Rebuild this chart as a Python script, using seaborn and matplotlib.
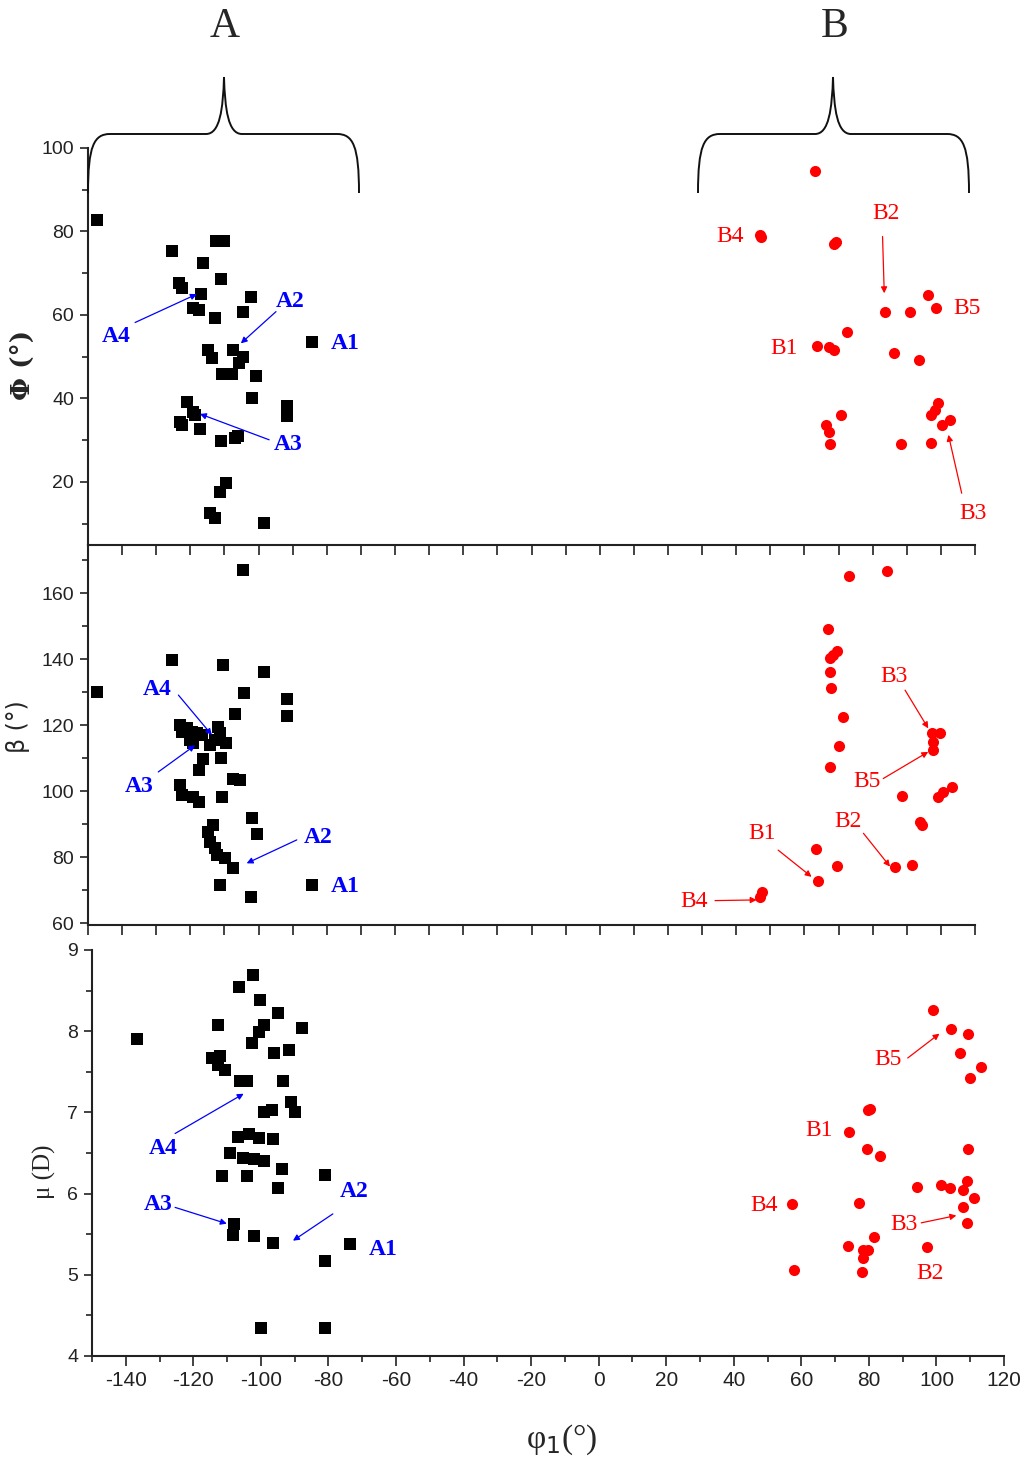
import numpy as np
import pandas as pd
import matplotlib
matplotlib.use('Agg')
import matplotlib.pyplot as plt
from matplotlib.path import Path
from matplotlib.patches import PathPatch
from matplotlib.ticker import MultipleLocator, NullFormatter
from matplotlib import font_manager
import seaborn as sns

# ---- data (phi1 in degrees) ----
phi_A_x = [-147.5, -125.5, -116.2, -112.5, -110.1, -111.0, -123.3, -122.5, -116.9, -102.3,
           -119.1, -117.5, -112.8, -104.5, -84.4, -114.7, -113.7, -107.4, -104.5, -105.7,
           -110.8, -107.9, -100.8, -101.8, -121.1, -119.3, -118.6, -123.0, -122.5, -117.2,
           -91.8, -91.8, -111.1, -106.9, -106.0, -109.5, -111.3, -114.2, -112.8, -98.4]
phi_A_y = [82.8, 75.4, 72.5, 77.7, 77.7, 68.5, 67.6, 66.4, 65.0, 64.2,
           61.6, 61.2, 59.2, 60.6, 53.5, 51.6, 49.6, 51.5, 50.0, 48.4,
           45.8, 45.8, 45.4, 40.2, 39.2, 36.8, 36.0, 34.4, 33.6, 32.7,
           38.2, 35.8, 29.7, 30.5, 31.0, 19.7, 17.7, 12.5, 11.3, 10.1]
phi_B_x = [63.1, 47.0, 47.2, 69.4, 68.8, 83.6, 91.0, 96.3, 98.6, 72.6,
           63.6, 67.3, 68.8, 86.3, 93.6, 99.2, 98.3, 97.1, 102.7, 100.2,
           70.8, 66.3, 67.3, 67.5, 88.3, 97.1]
phi_B_y = [94.6, 79.2, 78.6, 77.6, 77.0, 60.6, 60.6, 64.8, 61.6, 56.0,
           52.6, 52.3, 51.6, 51.0, 49.2, 38.8, 37.2, 36.0, 34.9, 33.7,
           36.0, 33.7, 32.0, 29.1, 29.1, 29.3]

beta_A_x = [-147.5, -125.5, -110.5, -104.5, -98.4, -104.2, -91.8, -91.8, -106.9, -123.0,
            -122.5, -121.1, -119.6, -118.1, -116.7, -120.1, -119.3, -111.8, -111.3, -112.8,
            -114.2, -109.5, -111.1, -116.2, -117.4, -123.0, -122.5, -119.1, -117.4, -110.8,
            -107.4, -105.4, -101.8, -100.6, -113.3, -114.7, -114.2, -112.8, -112.3, -109.8,
            -107.4, -111.3, -102.3, -84.4]
beta_A_y = [130.1, 139.7, 138.2, 167.0, 136.2, 129.8, 127.8, 122.7, 123.5, 120.0,
            118.0, 119.0, 118.0, 117.5, 117.0, 115.5, 114.5, 119.5, 117.5, 115.5,
            114.0, 114.6, 109.9, 109.7, 106.4, 101.8, 98.8, 98.3, 96.6, 98.1,
            103.8, 103.5, 91.9, 87.0, 89.7, 87.7, 84.6, 82.6, 80.6, 79.6,
            76.6, 71.5, 68.0, 71.5]
beta_B_x = [73.2, 84.1, 66.8, 69.5, 68.5, 67.5, 67.5, 67.8, 71.4, 70.1,
            67.5, 99.7, 97.3, 97.8, 97.8, 88.7, 103.2, 100.7, 99.2, 93.9,
            94.4, 63.4, 69.5, 86.5, 91.4, 63.9, 47.5, 47.0]
beta_B_y = [165.2, 166.8, 149.1, 142.4, 141.4, 140.2, 136.0, 131.3, 122.5, 113.7,
            107.4, 117.7, 117.5, 114.9, 112.4, 98.5, 101.3, 99.8, 98.3, 90.7,
            89.7, 82.3, 77.3, 76.9, 77.6, 72.7, 69.5, 68.0]

mu_A_x = [-136.7, -112.6, -106.6, -102.2, -100.2, -94.8, -87.8, -99.2, -100.7, -102.7,
          -96.0, -91.6, -114.5, -112.1, -112.6, -110.6, -106.3, -104.0, -93.5, -91.1,
          -90.0, -99.2, -96.7, -106.8, -103.4, -100.7, -96.3, -109.1, -105.3, -102.0,
          -99.0, -93.8, -111.5, -104.1, -94.9, -80.9, -108.1, -108.3, -101.9, -96.4,
          -73.5, -80.9, -100.0, -80.9]
mu_A_y = [7.91, 8.08, 8.55, 8.69, 8.39, 8.22, 8.04, 8.08, 7.99, 7.85,
          7.73, 7.77, 7.67, 7.69, 7.58, 7.52, 7.39, 7.39, 7.39, 7.13,
          7.01, 7.01, 7.03, 6.70, 6.74, 6.68, 6.67, 6.50, 6.44, 6.42,
          6.40, 6.30, 6.22, 6.22, 6.07, 6.23, 5.62, 5.49, 5.48, 5.39,
          5.38, 5.17, 4.34, 4.34]
mu_B_x = [98.9, 104.4, 109.3, 107.0, 113.3, 110.0, 80.4, 79.7, 74.0, 79.5,
          83.4, 109.3, 94.3, 101.4, 103.9, 109.0, 107.8, 111.0, 107.8, 109.0,
          57.2, 77.0, 81.6, 73.7, 78.2, 79.7, 78.2, 77.9, 57.7, 97.2]
mu_B_y = [8.26, 8.03, 7.96, 7.73, 7.56, 7.42, 7.04, 7.03, 6.76, 6.55,
          6.46, 6.55, 6.08, 6.11, 6.07, 6.15, 6.05, 5.94, 5.84, 5.64,
          5.87, 5.88, 5.47, 5.35, 5.31, 5.31, 5.21, 5.04, 5.06, 5.34]

# labels: (text, text position, arrow start, arrow tip)
phi_labels = [('A4', (-141.6, 54.8), (-136.2, 58.2), (-118.1, 65.0)),
              ('A2', (-90.8, 63.2), (-94.9, 60.8), (-105.2, 53.2)),
              ('A1', (-74.7, 53.2), None, None),
              ('A3', (-91.3, 28.9), (-96.9, 30.1), (-117.2, 36.3)),
              ('B4', (38.2, 78.9), None, None),
              ('B2', (83.9, 84.4), (82.9, 78.8), (83.4, 65.2)),
              ('B5', (107.6, 61.6), None, None),
              ('B1', (54.1, 52.0), None, None),
              ('B3', (109.5, 12.5), (106.1, 17.3), (102.2, 31.3))]
beta_labels = [('A4', (-129.7, 130.8), (-123.5, 129.1), (-113.7, 117.0)),
               ('A3', (-135.0, 101.3), (-129.4, 105.8), (-118.6, 113.9)),
               ('A2', (-82.5, 85.9), (-88.8, 85.2), (-103.5, 78.1)),
               ('A1', (-74.7, 71.0), None, None),
               ('B3', (86.3, 134.6), (89.5, 130.6), (96.3, 119.0)),
               ('B5', (78.5, 102.8), (83.1, 103.8), (96.3, 111.9)),
               ('B2', (72.9, 90.9), (77.3, 87.2), (85.1, 77.1)),
               ('B1', (47.5, 87.2), (52.3, 82.1), (62.1, 74.0)),
               ('B4', (27.6, 66.5), (33.8, 66.8), (46.0, 67.0))]
mu_labels = [('A4', (-129.0, 6.56), (-125.4, 6.74), (-105.1, 7.23)),
             ('A3', (-130.3, 5.86), (-125.4, 5.83), (-110.1, 5.63)),
             ('A2', (-72.5, 6.03), (-78.7, 5.75), (-90.5, 5.42)),
             ('A1', (-63.8, 5.31), None, None),
             ('B5', (85.6, 7.65), (91.5, 7.67), (100.9, 7.97)),
             ('B1', (65.3, 6.78), None, None),
             ('B4', (49.0, 5.85), None, None),
             ('B3', (90.3, 5.62), (95.5, 5.64), (105.9, 5.73)),
             ('B2', (98.2, 5.01), None, None)]

sns.set_style('ticks')
names = {f.name for f in font_manager.fontManager.ttflist}
tick_font = 'Liberation Sans Narrow' if 'Liberation Sans Narrow' in names else 'Liberation Sans'
plt.rcParams['font.family'] = ['Liberation Sans', 'DejaVu Sans']
plt.rcParams['axes.unicode_minus'] = False

W, H = 1024, 1465
fig = plt.figure(figsize=(W / 100, H / 100), dpi=100)
fig.patch.set_facecolor('white')


def px(x, y):
    return x / W, 1 - y / H


ax1 = fig.add_axes([88 / W, 1 - 545 / H, 887 / W, 397 / H])
ax2 = fig.add_axes([88 / W, 1 - 925 / H, 887 / W, 380 / H])
ax3 = fig.add_axes([92 / W, 1 - 1356 / H, 912 / W, 406 / H])

panels = [(ax1, phi_A_x, phi_A_y, phi_B_x, phi_B_y, phi_labels),
          (ax2, beta_A_x, beta_A_y, beta_B_x, beta_B_y, beta_labels),
          (ax3, mu_A_x, mu_A_y, mu_B_x, mu_B_y, mu_labels)]

for ax, ax_x, ay, bx, by, labels in panels:
    ax.set_facecolor('none')
    sns.scatterplot(x=ax_x, y=ay, ax=ax, marker='s', color='black', s=64,
                    linewidth=0, clip_on=False)
    sns.scatterplot(x=bx, y=by, ax=ax, marker='o', color='#ff0000', s=64,
                    linewidth=0, clip_on=False)
    for txt, pos, start, tip in labels:
        col = '#0000ff' if txt.startswith('A') else '#ff0000'
        ax.text(pos[0], pos[1], txt, color=col, fontsize=17,
                fontweight='bold' if col == '#0000ff' else 'normal',
                family='Liberation Serif', ha='center', va='center', clip_on=False)
        if start is not None:
            ax.annotate('', xy=tip, xytext=start,
                        arrowprops=dict(arrowstyle='-|>', color=col, lw=0.9,
                                        mutation_scale=9, shrinkA=0, shrinkB=0))
    sns.despine(ax=ax)
    for s in ['left', 'bottom']:
        ax.spines[s].set_linewidth(1.5)
        ax.spines[s].set_color('#222222')
    ax.yaxis.set_minor_locator(MultipleLocator(10))
    ax.tick_params(axis='both', which='major', direction='out', length=6, width=1.2,
                   colors='#222222', labelsize=14)
    ax.tick_params(axis='both', which='minor', direction='out', length=4, width=1.2,
                   colors='#222222')
    ax.set_xlabel('')
    ax.set_ylabel('')

for ax in (ax1, ax2):
    ax.set_xlim(-150, 110)
    ax.xaxis.set_major_locator(MultipleLocator(10))
    ax.xaxis.set_major_formatter(NullFormatter())
    ax.tick_params(axis='x', which='major', length=7)

ax1.set_ylim(4.9, 100)
ax1.yaxis.set_major_locator(MultipleLocator(20))
ax2.set_ylim(59.4, 174.6)
ax2.yaxis.set_major_locator(MultipleLocator(20))

ax3.set_xlim(-150, 120)
ax3.set_ylim(4, 9)
ax3.xaxis.set_major_locator(MultipleLocator(20))
ax3.xaxis.set_minor_locator(MultipleLocator(10))
ax3.yaxis.set_major_locator(MultipleLocator(1))
ax3.yaxis.set_minor_locator(MultipleLocator(0.5))
ax3.tick_params(axis='x', which='major', labelsize=15, length=7)

for ax in (ax1, ax2, ax3):
    for lab in ax.get_xticklabels() + ax.get_yticklabels():
        lab.set_family(tick_font)
    ax.tick_params(axis='both', pad=4)

# axis titles
fig.text(*px(22, 365), 'Φ (°)', rotation=90, ha='center', va='center',
         fontsize=19, fontweight='bold', family='DejaVu Serif')
fig.text(*px(18, 727), 'β (°)', rotation=90, ha='center', va='center',
         fontsize=17, family='DejaVu Sans')
fig.text(*px(44, 1172), 'μ (D)', rotation=90, ha='center', va='center',
         fontsize=18, family='Liberation Serif')
fig.text(*px(562, 1440), 'φ$_1$(°)', ha='center', va='center',
         fontsize=24, family='Liberation Serif')

# group letters and braces
fig.text(*px(225, 27), 'A', ha='center', va='center', fontsize=30, family='Liberation Serif')
fig.text(*px(835, 27), 'B', ha='center', va='center', fontsize=30, family='Liberation Serif')


def brace(xl, xm, xr, ytop=134, ytip=77, ybot=193):
    pts = [(xl, ybot), (xl, ytop + 12), (xl + 6, ytop), (xl + 22, ytop),
           (xm - 18, ytop),
           (xm - 4, ytop), (xm - 1, ytop - 25), (xm, ytip),
           (xm + 1, ytop - 25), (xm + 4, ytop), (xm + 18, ytop),
           (xr - 22, ytop),
           (xr - 6, ytop), (xr, ytop + 12), (xr, ybot)]
    codes = [Path.MOVETO, Path.CURVE4, Path.CURVE4, Path.CURVE4,
             Path.LINETO,
             Path.CURVE4, Path.CURVE4, Path.CURVE4,
             Path.CURVE4, Path.CURVE4, Path.CURVE4,
             Path.LINETO,
             Path.CURVE4, Path.CURVE4, Path.CURVE4]
    verts = [px(x, y) for x, y in pts]
    patch = PathPatch(Path(verts, codes), transform=fig.transFigure,
                      facecolor='none', edgecolor='#111111', lw=1.4)
    fig.add_artist(patch)


brace(88, 224, 359)
brace(698, 833, 969)

fig.savefig('out.png', dpi=100, facecolor='white')
